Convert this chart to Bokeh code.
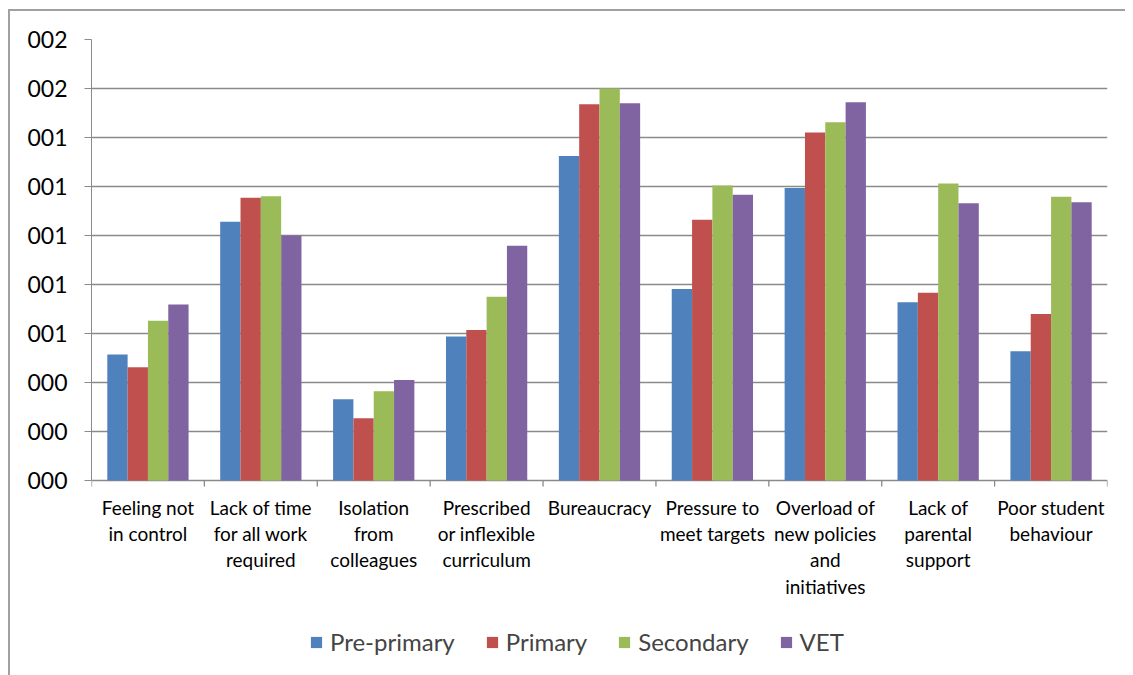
from bokeh.plotting import figure
from bokeh.models import (Range1d, FixedTicker, Legend, LegendItem, ColumnDataSource)
from bokeh.core.properties import value
from bokeh.transform import dodge
from bokeh.embed import file_html
from bokeh.resources import INLINE

categories = ["Feeling not in control", "Lack of time for all work required",
              "Isolation from colleagues", "Prescribed or inflexible curriculum",
              "Bureaucracy", "Pressure to meet targets",
              "Overload of new policies and initiatives", "Lack of parental support",
              "Poor student behaviour"]
category_labels = ["Feeling not\nin control", "Lack of time\nfor all work\nrequired",
                   "Isolation\nfrom\ncolleagues", "Prescribed\nor inflexible\ncurriculum",
                   "Bureaucracy", "Pressure to\nmeet targets",
                   "Overload of\nnew policies\nand\ninitiatives", "Lack of\nparental\nsupport",
                   "Poor student\nbehaviour"]
series_names = ["Pre-primary", "Primary", "Secondary", "VET"]
pre_primary = [2.57, 5.28, 1.66, 2.94, 6.62, 3.91, 5.97, 3.64, 2.64]
primary     = [2.31, 5.77, 1.27, 3.07, 7.68, 5.32, 7.10, 3.83, 3.40]
secondary   = [3.26, 5.80, 1.82, 3.75, 8.00, 6.02, 7.31, 6.06, 5.79]
vet         = [3.59, 5.00, 2.05, 4.79, 7.70, 5.83, 7.72, 5.66, 5.68]
y_ticks = [0, 1, 2, 3, 4, 5, 6, 7, 8, 9]
y_tick_labels = ["000", "000", "000", "001", "001", "001", "001", "001", "002", "002"]

colors = ["#4F81BD", "#C0504D", "#9BBB59", "#8064A2"]
FONT = "Lato"
GRID = "#8a8a8a"

# layout constants (pixels)
PX_PER_UNIT = 49.0
FRAME_H = 636
PLOT_H = 441
TICK_LEN = 6
LABEL_GAP = 15

n = len(categories)
centers = [i + 0.5 for i in range(n)]
bounds = list(range(n + 1))
y_top = y_ticks[-1]
y_bottom = -(FRAME_H - PLOT_H) / PX_PER_UNIT

src = ColumnDataSource(dict(x=centers, s0=pre_primary, s1=primary, s2=secondary, s3=vet))
lab_src = ColumnDataSource(dict(x=centers, label=category_labels))
tick_src = ColumnDataSource(dict(x=bounds))

p = figure(x_range=Range1d(0, n), y_range=Range1d(y_bottom, y_top),
           frame_width=1016, frame_height=FRAME_H,
           min_border_left=81, min_border_top=28, min_border_right=18, min_border_bottom=0,
           x_axis_location=None, y_axis_location="left",
           output_backend="svg", toolbar_location=None, tools="")
p.styles = {"border-left": "2px solid #a0a0a0", "border-top": "2px solid #a0a0a0",
            "margin-left": "8px", "margin-top": "9px"}
p.outline_line_color = None
p.background_fill_color = "white"
p.border_fill_color = "white"

offsets = [-0.27, -0.09, 0.09, 0.27]
renderers = []
for i, name in enumerate(series_names):
    r = p.vbar(x=dodge("x", offsets[i]), top="s%d" % i, bottom=0, width=0.18,
               source=src, fill_color=colors[i], line_color=None)
    renderers.append(r)

# y axis
ya = p.yaxis[0]
ya.ticker = FixedTicker(ticks=y_ticks)
ya.bounds = (y_ticks[0], y_ticks[-1])
ya.major_label_overrides = {t: l for t, l in zip(y_ticks, y_tick_labels)}
ya.axis_line_color = GRID
ya.major_tick_line_color = GRID
ya.major_tick_out = 7
ya.major_tick_in = 0
ya.minor_tick_line_color = None
ya.major_label_text_font = FONT
ya.major_label_text_font_size = "23px"
ya.major_label_text_color = "black"
ya.major_label_standoff = 17

p.ygrid.ticker = FixedTicker(ticks=y_ticks)
p.ygrid.grid_line_color = GRID
p.ygrid.grid_line_width = 1.3
p.xgrid.grid_line_color = None

# category boundary tick marks below the baseline
p.segment(x0="x", y0=0, x1="x", y1=-TICK_LEN / PX_PER_UNIT, source=tick_src,
          line_color=GRID, line_width=1.3)

# category labels
p.text(x="x", y=-LABEL_GAP / PX_PER_UNIT, text="label", source=lab_src,
       text_font=value(FONT), text_font_size=value("19px"), text_color="black",
       text_align="center", text_baseline="top", text_line_height=1.15)

legend = Legend(items=[LegendItem(label=nm, renderers=[r]) for nm, r in zip(series_names, renderers)],
                orientation="horizontal", location=(218, 19),
                label_text_font=FONT, label_text_font_size="24px",
                glyph_width=14, glyph_height=14, spacing=30, label_standoff=7,
                border_line_color=None, background_fill_alpha=0,
                margin=0, padding=2)
p.add_layout(legend, "center")

open("out.html", "w").write(file_html(p, INLINE))
